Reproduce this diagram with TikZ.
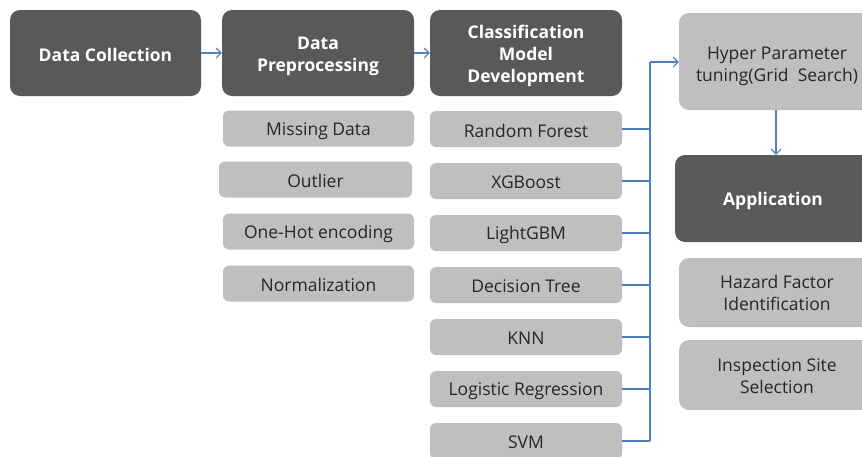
\documentclass[tikz,border=0pt]{standalone}
\usepackage{fontspec}
\setmainfont{Open Sans}
\usetikzlibrary{arrows.meta}
\definecolor{darkbox}{HTML}{595959}
\definecolor{lightbox}{HTML}{BFBFBF}
\definecolor{txt}{HTML}{262626}
\definecolor{arr}{HTML}{4F81BD}
\tikzset{
  darkstep/.style={fill=darkbox, rounded corners=10pt, inner sep=0pt},
  lightstep/.style={fill=lightbox, rounded corners=10pt, inner sep=0pt},
  subbox/.style={fill=lightbox, rounded corners=6pt, inner sep=0pt, minimum height=36pt},
  whitetext/.style={text=white, font=\fontsize{17.5}{22}\selectfont\bfseries, align=center, inner sep=0pt},
  greytext/.style={text=txt, font=\fontsize{17.5}{22}\selectfont, align=center, inner sep=0pt},
  flow/.style={draw=arr, line width=1.1pt, -{Straight Barb[length=5pt,width=10pt]}},
  link/.style={draw=arr, line width=1.1pt}
}
\begin{document}
\begin{tikzpicture}[x=1pt,y=-1pt]
\useasboundingbox (0,0) rectangle (862,456);
\clip (0,0) rectangle (862,456);
\fill[white] (0,0) rectangle (862,456);
% main row
\node[darkstep, minimum width=191pt, minimum height=86pt] (dc) at (105.5,53) {};
\node[whitetext] (dct) at ([yshift=-1.5pt]dc.center) {Data Collection};
\node[darkstep, minimum width=192pt, minimum height=86pt] (dp) at (318,53) {};
\node[whitetext] (dpt) at ([yshift=-3pt]dp.center) {Data\\Preprocessing};
\node[darkstep, minimum width=192pt, minimum height=86pt] (cm) at (526,53) {};
\node[whitetext] (cmt) at ([yshift=-3pt]cm.center) {Classification\\Model\\Development};
\node[lightstep, minimum width=196pt, minimum height=97pt] (hp) at (777,61.5) {};
\node[greytext] (hpt) at ([yshift=-4.5pt]hp.center) {Hyper Parameter\\tuning(Grid~ Search)};
\node[darkstep, minimum width=196pt, minimum height=87pt] (ap) at (773,198.5) {};
\node[whitetext] (apt) at ([yshift=-2pt]ap.center) {Application};
% preprocessing sub-steps
\node[subbox, minimum width=191pt] (md) at (318.5,128.5) {};
\node[greytext] (mdt) at ([yshift=-2.5pt]md.center) {Missing Data};
\node[subbox, minimum width=193pt] (ol) at (315.5,179.5) {};
\node[greytext] (olt) at ([yshift=-1.5pt]ol.center) {Outlier};
\node[subbox, minimum width=191pt] (oh) at (318.5,231.5) {};
\node[greytext] (oht) at ([yshift=-2pt]oh.center) {One-Hot encoding};
\node[subbox, minimum width=191pt] (nm) at (318.5,283.5) {};
\node[greytext] (nmt) at ([yshift=-1.5pt]nm.center) {Normalization};
% models
\node[subbox, minimum width=192pt] (rf) at (526,129) {};
\node[greytext] (rft) at ([yshift=-1.5pt]rf.center) {Random Forest};
\node[subbox, minimum width=192pt] (xg) at (526,181) {};
\node[greytext] (xgt) at ([yshift=-1.5pt]xg.center) {XGBoost};
\node[subbox, minimum width=192pt] (lg) at (526,233) {};
\node[greytext] (lgt) at ([yshift=-1.5pt]lg.center) {LightGBM};
\node[subbox, minimum width=192pt] (dt) at (526,285) {};
\node[greytext] (dtt) at ([yshift=-1.5pt]dt.center) {Decision Tree};
\node[subbox, minimum width=192pt] (kn) at (526,337) {};
\node[greytext] (knt) at ([yshift=-1.5pt]kn.center) {KNN};
\node[subbox, minimum width=192pt] (lr) at (526,389) {};
\node[greytext] (lrt) at ([yshift=-2.5pt]lr.center) {Logistic Regression};
\node[subbox, minimum width=192pt] (sv) at (526,441) {};
\node[greytext] (svt) at ([yshift=-1.5pt]sv.center) {SVM};
% application sub-items
\node[lightstep, minimum width=196pt, minimum height=69pt] (hf) at (777,292.5) {};
\node[greytext] (hft) at ([yshift=-0.5pt]hf.center) {Hazard Factor\\Identification};
\node[lightstep, minimum width=196pt, minimum height=70pt] (is) at (777,375) {};
\node[greytext] (ist) at ([yshift=-1.5pt]is.center) {Inspection Site\\Selection};
% connectors
\coordinate (bus) at (650,62);
\draw[flow] (dc.east) -- (dp.west);
\draw[flow] (dp.east) -- (cm.west);
\foreach \m in {rf,xg,lg,dt,kn,lr,sv} {
  \draw[link] (\m.east) -- (\m.east -| bus);
}
\draw[link] (sv.east -| bus) -- (bus);
\draw[flow] (bus) -- (bus -| hp.west);
\draw[flow] (hp.south -| 776,0) -- (ap.north -| 776,0);
\end{tikzpicture}
\end{document}
